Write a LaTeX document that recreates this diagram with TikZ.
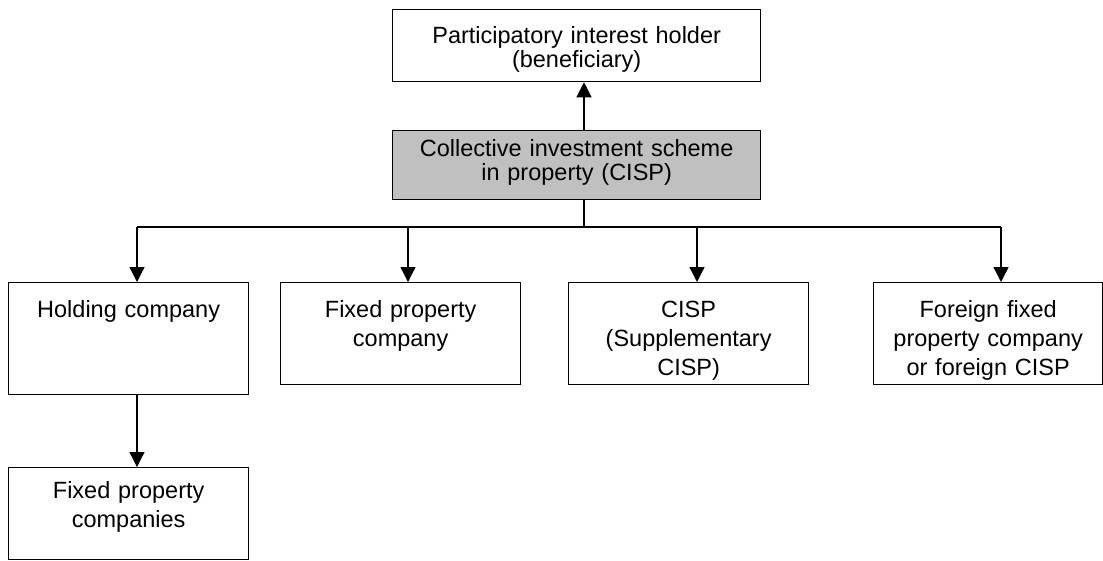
\documentclass[tikz,border=0pt]{standalone}
\usepackage{fontspec}
\setmainfont{Liberation Sans}
\usepackage{xcolor}
\usetikzlibrary{arrows.meta}

\definecolor{cispgray}{RGB}{192,192,192}
\tikzset{
  box/.style={draw, line width=1.3pt, inner sep=0pt, anchor=north west, align=center,
    text width=240pt, text height=35pt, text depth=67pt, font=\fontsize{23.5}{29}\selectfont},
  topbox/.style={box, text width=368pt, font=\fontsize{23.5}{24}\selectfont},
  arr/.style={-{Triangle[length=15pt,width=15pt]}, line width=1.3pt},
  link/.style={line width=1.3pt},
}

\begin{document}
\begin{tikzpicture}[x=1pt,y=-1pt]
        \useasboundingbox (0,0) rectangle (1103,560);
        % top
        \node [topbox, text height=34pt, text depth=38pt] (holder) at (392,9) {Participatory interest holder\\(beneficiary)};
        \node [topbox, fill=cispgray, text height=26pt, text depth=43pt] (cisp) at (392,130) {Collective investment scheme\\in property (CISP)};
        % row of entities
        \node [box, text depth=77pt] (holding) at (8,282) {Holding company};
        \node [box] (fixed) at (280,282) {Fixed property\\company};
        \node [box] (supp) at (568,282) {CISP\\(Supplementary\\CISP)};
        \node [box, text width=229pt] (foreign) at (873,282) {Foreign fixed\\property company\\or foreign CISP};
        \node [box, text height=31pt, text depth=61pt] (fpc) at (8,467) {Fixed property\\companies};
        % connectors
        \coordinate (split) at (584,227);
        \coordinate (a1) at (137,227);
        \coordinate (a2) at (408,227);
        \coordinate (a3) at (697,227);
        \coordinate (a4) at (1001,227);
        \draw [arr] (split |- cisp.north) -- (split |- holder.south);
        \draw [link] (split |- cisp.south) -- (split);
        \draw [link] (a1) -- (a4);
        \foreach \c/\n in {a1/holding, a2/fixed, a3/supp, a4/foreign}{
            \draw [arr] (\c) -- (\c |- \n.north);
        }
        \draw [arr] (a1 |- holding.south) -- (a1 |- fpc.north);
\end{tikzpicture}
\end{document}
